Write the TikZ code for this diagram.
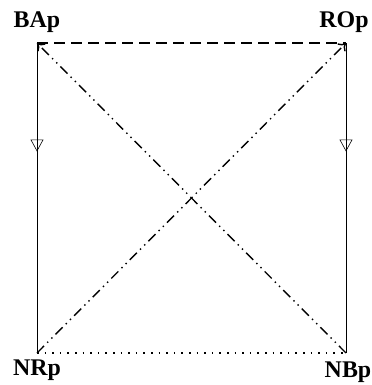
\documentclass[tikz,border=0pt]{standalone}
\usepackage{fontspec}
\setmainfont{Liberation Serif}
\usetikzlibrary{arrows.meta,decorations.markings}

\tikzset{
  lbl/.style={font=\fontsize{24}{26}\selectfont\bfseries, inner sep=0pt},
  flow/.style={line width=0.6pt, postaction={decorate}, decoration={markings,
      mark=at position 0.35 with {\arrow{Triangle[open,length=12bp,width=13bp]}}}},
  dashdotdot/.style={line width=1.4pt, dash pattern=on 10bp off 4.5bp on 1.4bp off 4.5bp on 1.4bp off 4.5bp}
}

\begin{document}
\begin{tikzpicture}[x=1bp,y=1bp]
        \useasboundingbox (0,0) rectangle (372,-385);

        % Corners
        \coordinate (BAp) at (37,-43);
        \coordinate (ROp) at (346,-43);
        \coordinate (NRp) at (37,-353);
        \coordinate (NBp) at (346,-353);

        % Labels
        \node[lbl] (tBAp) at (37,-22) {BAp};
        \node[lbl] (tROp) at (344,-22) {ROp};
        \node[lbl] (tNRp) at (37,-370) {NRp};
        \node[lbl] (tNBp) at (348,-372) {NBp};

        % Sides
        \draw[line width=1.4pt, dash pattern=on 11bp off 6bp] (BAp) -- (ROp);
        \draw[line width=1.6pt, dash pattern=on 1.6bp off 6bp] (NRp) -- (NBp);
        \draw[flow] (BAp) -- (NRp);
        \draw[flow] (ROp) -- (NBp);

        % Diagonals
        \draw[dashdotdot, -{To[length=7bp,width=11bp,line width=1.4pt]}] (NBp) -- (BAp);
        \draw[dashdotdot, -{To[length=7bp,width=11bp,line width=1.4pt]}] (NRp) -- (ROp);
\end{tikzpicture}
\end{document}
